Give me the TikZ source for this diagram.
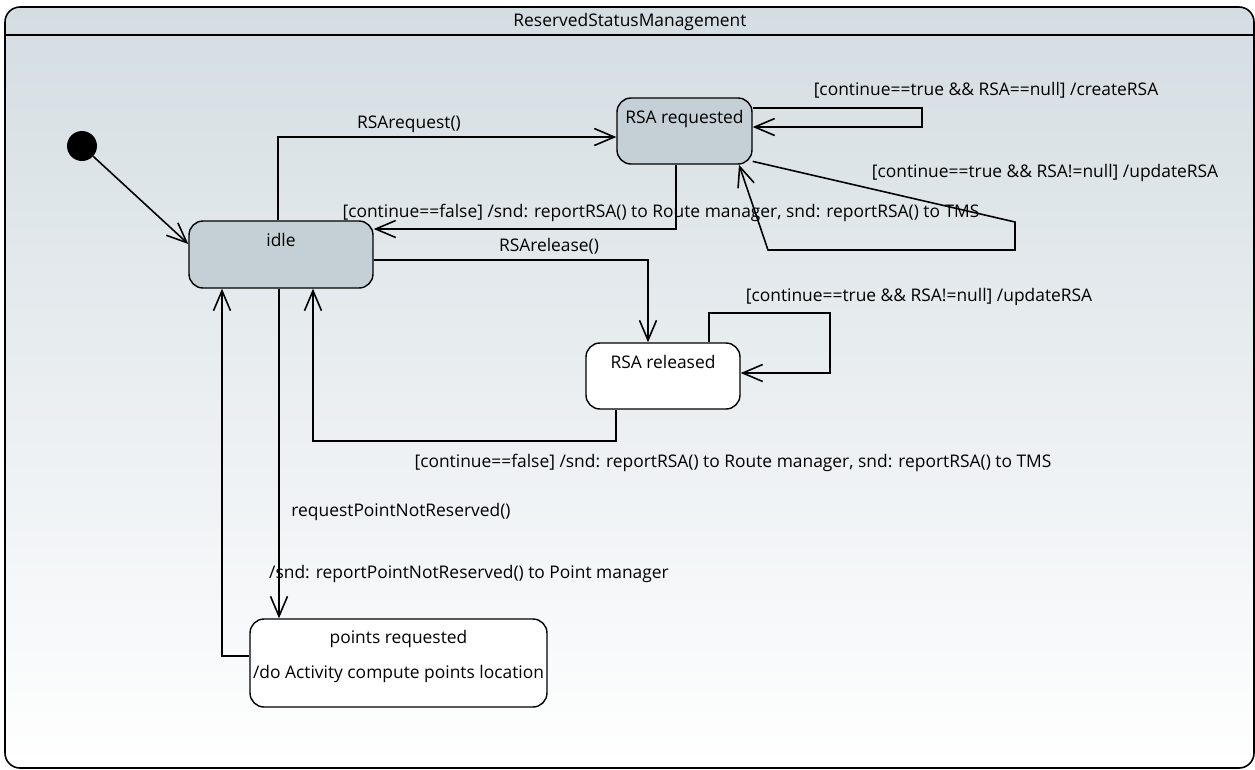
\documentclass[tikz,border=0pt]{standalone}
\usepackage{fontspec}
\setmainfont{Open Sans}
\usetikzlibrary{arrows.meta}

\definecolor{bgtop}{RGB}{212,221,226}
\definecolor{statefill}{RGB}{196,208,214}

\tikzset{
  state/.style={draw, line width=0.8pt, rounded corners=0.28cm, inner sep=0pt},
  trans/.style={draw, line width=0.9pt, -{Straight Barb[length=0.4cm,width=0.34cm]}},
  lbl/.style={font=\fontsize{9.9}{12}\selectfont, inner sep=1pt},
}

\begin{document}
\begin{tikzpicture}[x=0.02cm, y=-0.02cm]
\useasboundingbox (0,0) rectangle (1255,769);

% frame
\shade[top color=bgtop, bottom color=white, rounded corners=0.3cm] (5,7) rectangle (1254,768);
\draw[line width=0.9pt, rounded corners=0.3cm] (5,7) rectangle (1254,768);
\draw[line width=0.9pt] (5,35) -- (1254,35);
\node[lbl] (title) at (630,22) {ReservedStatusManagement};

% states
\node[circle, fill=black, minimum size=0.6cm, inner sep=0pt] (init) at (82,146) {};
\node[state, fill=statefill, minimum width=3.68cm, minimum height=1.34cm,
      label={[lbl, anchor=north, yshift=-0.22cm]north:idle}] (idle) at (281,254.5) {};
\node[state, fill=statefill, minimum width=2.7cm, minimum height=1.32cm,
      label={[lbl, anchor=north, yshift=-0.22cm]north:RSA requested}] (rsaReq) at (684.5,131) {};
\node[state, fill=white, minimum width=3.08cm, minimum height=1.32cm,
      label={[lbl, anchor=north, yshift=-0.22cm]north:RSA released}] (rsaRel) at (663,376) {};
\node[state, fill=white, minimum width=5.94cm, minimum height=1.76cm,
      label={[lbl, anchor=north, yshift=-0.2cm]north:points requested},
      label={[lbl, anchor=north, yshift=-0.9cm]north:/do Activity compute points location}] (points) at (398.5,663) {};

% bend points
\coordinate (reqLoop) at (922,117);
\coordinate (updA) at (1015,222);
\coordinate (updB) at (1015,250);
\coordinate (updC) at (768,250);
\coordinate (relLoop) at (830,313);
\coordinate (relBack) at (616,441);

% transitions
\draw[trans] (init) -- (idle.west |- 0,244);
\draw[trans] (idle.north -| 278,0) |- (rsaReq.west |- 0,137);
\draw[trans] (rsaReq.east |- 0,108) -| (reqLoop) |- (rsaReq.east |- 0,127);
\draw[trans] (rsaReq.south -| 676,0) |- (idle.east |- 0,229);
\draw[trans] (rsaReq.-24) -- (updA) -- (updB) -- (updC) -- (rsaReq.south -| 739,0);
\draw[trans] (idle.east |- 0,260) -| (rsaRel.north -| 648,0);
\draw[trans] (rsaRel.north -| 709,0) |- (relLoop) |- (rsaRel.east |- 0,373);
\draw[trans] (rsaRel.south -| 616,0) -- (relBack) -| (idle.south -| 313,0);
\draw[trans] (idle.south -| 279,0) -- (points.north -| 279,0);
\draw[trans] (points.west |- 0,656) -| (idle.south -| 222,0);

% labels
\node[lbl] (lReq) at (409,124) {RSArequest()};
\node[lbl] (lCreate) at (986,90) {[continue==true \&\& RSA==null] /createRSA};
\node[lbl] (lReqBack) at (661,213) {[continue==false] /snd: reportRSA() to Route manager, snd: reportRSA() to TMS};
\node[lbl] (lUpd) at (1045,173) {[continue==true \&\& RSA!=null] /updateRSA};
\node[lbl] (lRel) at (549,246) {RSArelease()};
\node[lbl] (lRelUpd) at (919,297) {[continue==true \&\& RSA!=null] /updateRSA};
\node[lbl] (lRelBack) at (733,463) {[continue==false] /snd: reportRSA() to Route manager, snd: reportRSA() to TMS};
\node[lbl] (lPoint) at (401,512) {requestPointNotReserved()};
\node[lbl] (lPointSnd) at (469,574) {/snd: reportPointNotReserved() to Point manager};
\end{tikzpicture}
\end{document}
